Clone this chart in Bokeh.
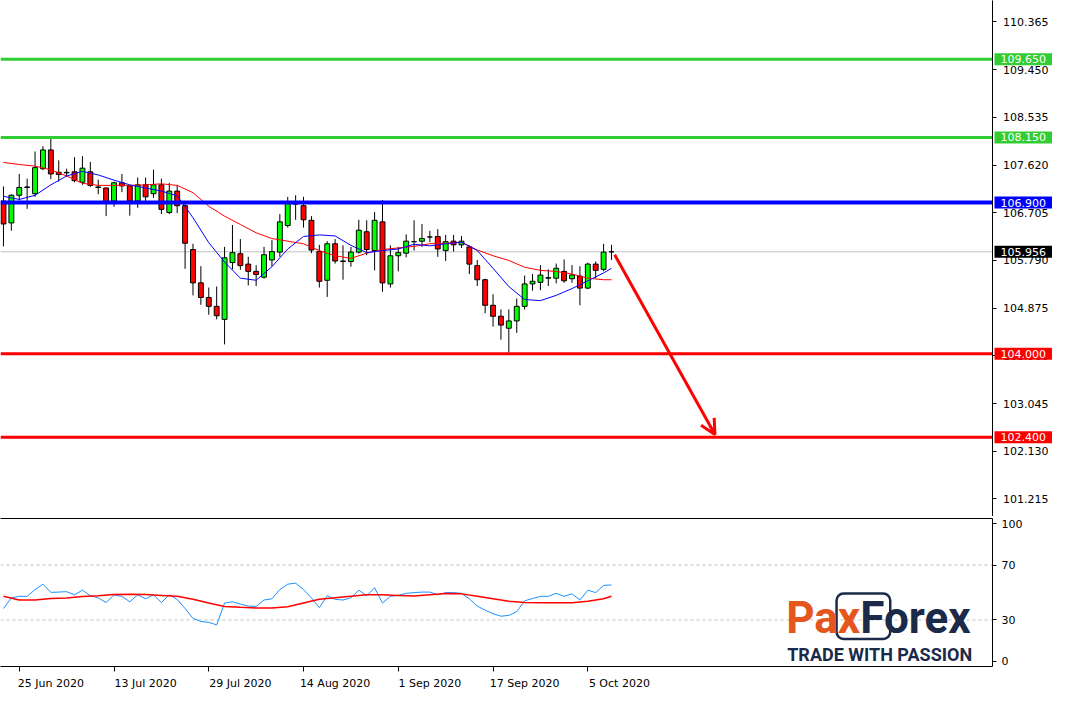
from bokeh.plotting import figure
from bokeh.layouts import column, row
from bokeh.models import (ColumnDataSource, Range1d, LinearAxis, FixedTicker, NumeralTickFormatter,
                          Span, Label, Arrow, OpenHead, BoxAnnotation)
from bokeh.embed import file_html
from bokeh.resources import INLINE

FONT = "DejaVu Sans"

# ---------------- data (USDJPY daily, 23 Jun 2020 .. 8 Oct 2020) ----------------
opens = [106.93, 106.51, 107.04, 107.19, 107.07, 107.55, 107.91, 107.48, 107.47, 107.49,
         107.29, 107.49, 107.19, 107.18, 106.93, 107.28, 107.22, 106.93, 107.24, 107.07,
         107.24, 106.71, 107.12, 106.84, 106.00, 105.36, 105.08, 104.91, 104.66, 105.75,
         105.92, 105.72, 105.58, 105.47, 105.80, 105.95, 106.46, 106.92, 106.84, 106.56,
         105.96, 105.41, 106.11, 105.78, 105.77, 105.95, 106.34, 105.98, 106.53, 105.34,
         105.88, 105.93, 106.15, 106.16, 106.24, 106.25, 105.98, 106.16, 106.09, 106.05,
         105.69, 105.42, 104.93, 104.72, 104.49, 104.63, 104.91, 105.34, 105.37, 105.45,
         105.45, 105.58, 105.44, 105.49, 105.26, 105.72, 105.62, 105.956]
highs = [107.21, 107.06, 107.45, 107.36, 107.88, 107.98, 108.12, 107.71, 107.55, 107.77,
         107.79, 107.68, 107.34, 107.19, 107.30, 107.45, 107.23, 107.38, 107.38, 107.53,
         107.36, 107.28, 107.24, 106.87, 106.11, 105.68, 105.27, 105.29, 106.05, 106.47,
         106.20, 105.86, 105.70, 106.05, 106.18, 106.68, 107.01, 107.04, 107.01, 106.64,
         106.09, 106.16, 106.20, 106.08, 106.05, 106.57, 106.56, 106.72, 106.95, 106.08,
         106.05, 106.29, 106.56, 106.49, 106.36, 106.39, 106.28, 106.28, 106.26, 106.08,
         105.80, 105.44, 105.14, 104.85, 104.85, 105.06, 105.50, 105.53, 105.70, 105.62,
         105.73, 105.81, 105.70, 105.68, 105.75, 105.77, 106.11, 106.09]
lows = [106.06, 106.36, 106.94, 106.78, 107.01, 107.52, 107.35, 107.30, 107.40, 107.29,
        107.24, 107.20, 107.06, 106.64, 106.82, 107.10, 106.65, 106.80, 106.93, 106.99,
        106.68, 106.68, 106.70, 105.63, 105.12, 104.94, 104.75, 104.66, 104.18, 105.62,
        105.61, 105.31, 105.30, 105.44, 105.68, 105.86, 106.42, 106.57, 106.42, 105.93,
        105.27, 105.09, 105.73, 105.42, 105.67, 105.92, 105.89, 105.60, 105.19, 105.27,
        105.58, 105.85, 105.98, 106.05, 106.14, 105.86, 105.78, 105.96, 106.03, 105.53,
        105.30, 104.78, 104.52, 104.27, 104.02, 104.40, 104.85, 105.21, 105.22, 105.30,
        105.35, 105.36, 105.36, 104.93, 105.24, 105.45, 105.58, 105.80]
closes = [106.49, 107.04, 107.19, 107.20, 107.57, 107.91, 107.45, 107.44, 107.48, 107.32,
          107.56, 107.23, 107.20, 106.92, 107.28, 107.22, 106.93, 107.24, 107.01, 107.24,
          106.77, 107.12, 106.84, 106.12, 105.36, 105.08, 104.91, 104.73, 105.84, 105.94,
          105.69, 105.58, 105.52, 105.90, 105.96, 106.53, 106.92, 106.87, 106.57, 105.99,
          105.39, 106.11, 105.78, 105.77, 105.95, 106.37, 106.00, 106.56, 105.36, 105.88,
          105.94, 106.16, 106.15, 106.21, 106.24, 106.01, 106.15, 106.09, 106.16, 105.72,
          105.42, 104.93, 104.72, 104.55, 104.63, 104.91, 105.34, 105.39, 105.51, 105.46,
          105.64, 105.40, 105.51, 105.26, 105.72, 105.60, 105.95, 105.956]

ma_idx = list(range(0, 78, 2)) + [77]
ma_fast = [107.02, 106.96, 107.04, 107.24, 107.41, 107.50, 107.43, 107.33, 107.24, 107.18,
           107.12, 107.03, 106.61, 106.13, 105.76, 105.45, 105.41, 105.67, 106.01, 106.25,
           106.28, 106.26, 106.08, 105.94, 105.98, 106.01, 106.10, 106.07, 106.11, 106.14,
           105.98, 105.64, 105.29, 105.04, 105.02, 105.12, 105.25, 105.40, 105.55, 105.64]
ma_slow = [107.67, 107.63, 107.60, 107.53, 107.41, 107.27, 107.23, 107.23, 107.23, 107.24,
           107.26, 107.23, 107.09, 106.83, 106.64, 106.48, 106.32, 106.21, 106.16, 106.11,
           105.98, 105.88, 105.83, 105.93, 106.00, 106.03, 106.06, 106.11, 106.12, 106.14,
           105.99, 105.88, 105.79, 105.66, 105.60, 105.58, 105.53, 105.45, 105.42, 105.42]

rsi = [38.3, 46.1, 47.2, 47.2, 52.1, 56.1, 50.1, 50.3, 50.6, 48.3,
       51.7, 47.7, 46.1, 42.7, 48.3, 47.2, 43.2, 48.3, 45.4, 48.3,
       42.7, 48.3, 45.0, 38.3, 31.1, 28.9, 28.2, 26.4, 42.3, 43.2,
       41.6, 40.1, 39.8, 44.5, 45.4, 52.1, 56.1, 56.8, 52.1, 46.1,
       38.9, 47.7, 45.0, 44.5, 46.1, 51.7, 47.7, 53.5, 42.3, 47.2,
       47.9, 49.4, 49.9, 50.3, 50.3, 48.3, 49.9, 49.9, 49.4, 45.4,
       40.1, 37.1, 34.5, 32.7, 33.3, 36.0, 43.9, 45.6, 47.2, 47.2,
       49.4, 47.2, 49.0, 44.5, 51.7, 49.9, 55.2, 55.5]
rsi_signal = [47.2, 44.5, 44.5, 45.6, 45.9, 47.0, 47.7, 48.5, 48.8, 48.5,
              47.9, 47.2, 45.0, 42.3, 39.8, 39.2, 38.7, 38.7, 39.6, 42.3,
              45.0, 46.1, 47.2, 48.3, 48.3, 47.9, 47.4, 48.3, 49.2, 49.0,
              47.2, 45.4, 43.6, 42.7, 42.5, 42.5, 42.5, 43.6, 45.4, 47.2]

date_tick_idx = [2, 14, 26, 38, 50, 62, 74]
date_tick_labels = ["25 Jun 2020", "13 Jul 2020", "29 Jul 2020", "14 Aug 2020",
                    "1 Sep 2020", "17 Sep 2020", "5 Oct 2020"]
price_ticks = [110.365, 109.450, 108.535, 107.620, 106.705, 105.790, 104.875,
               103.960, 103.045, 102.130, 101.215]
rsi_ticks = [0, 30, 70, 100]
rsi_levels = [70, 30]
levels = [109.650, 108.150, 106.900, 104.000, 102.400]
level_colors = ["#32CD32", "#32CD32", "#0000FF", "#FF0000", "#FF0000"]
current_price = 105.956
arrow_from = (77.4, 105.90)
arrow_to = (90.1, 102.45)

# ---------------- styling helpers ----------------
def style_axis(ax, size="11px"):
    ax.axis_line_color = "black"
    ax.axis_line_width = 1
    ax.major_tick_line_color = "black"
    ax.major_tick_out = 4
    ax.major_tick_in = 0
    ax.minor_tick_line_color = None
    ax.major_label_text_font = FONT
    ax.major_label_text_font_size = size
    ax.major_label_text_color = "black"
    ax.major_label_standoff = 5

def line_only_axis():
    return LinearAxis(ticker=FixedTicker(ticks=[]), axis_line_color="black",
                      major_tick_line_color=None, minor_tick_line_color=None,
                      major_label_text_font_size="1px", major_label_standoff=0)

def base_fig(**kw):
    return figure(toolbar_location=None, output_backend="svg",
                  min_border_left=0, min_border_right=0, min_border_top=0, min_border_bottom=0,
                  outline_line_color=None, background_fill_color="white",
                  border_fill_color="white", **kw)

x_range = Range1d(-0.375, 125.25)
y_price = Range1d(100.879, 110.776)
MAIN_H = 516

# ---------------- main price panel ----------------
main = base_fig(frame_width=992, frame_height=MAIN_H, x_range=x_range, y_range=y_price,
                x_axis_location=None, y_axis_location=None)
main.grid.visible = False
main.add_layout(line_only_axis(), "below")

main.add_layout(Span(location=current_price, dimension="width", line_color="#C0C0C0",
                     line_width=1, level="underlay"))

idx = list(range(len(opens)))
src = ColumnDataSource(dict(
    i=idx, high=highs, low=lows,
    top=[max(o, c) for o, c in zip(opens, closes)],
    bottom=[min(o, c) for o, c in zip(opens, closes)],
    color=["#00FF00" if c > o else ("#FF0000" if c < o else "black") for o, c in zip(opens, closes)],
))
main.segment(x0="i", y0="low", x1="i", y1="high", source=src, line_color="black", line_width=1)
main.vbar(x="i", width=0.62, top="top", bottom="bottom", source=src,
          fill_color="color", line_color="black", line_width=1)

main.line(ma_idx, ma_slow, line_color="#FF0000", line_width=1)
main.line(ma_idx, ma_fast, line_color="#0000FF", line_width=1)

for lv, col in zip(levels, level_colors):
    main.add_layout(Span(location=lv, dimension="width", line_color=col,
                         line_width=4 if col == "#0000FF" else 3))

main.add_layout(Arrow(x_start=arrow_from[0], y_start=arrow_from[1],
                      x_end=arrow_to[0], y_end=arrow_to[1],
                      line_color="#FF0000", line_width=3,
                      end=OpenHead(size=15, line_color="#FF0000", line_width=3)))

# ---------------- price scale strip (axis + coloured price boxes) ----------------
scale = base_fig(frame_width=64, frame_height=MAIN_H, x_range=Range1d(0, 64), y_range=y_price,
                 x_axis_location=None, y_axis_location="left")
scale.grid.visible = False
pax = scale.yaxis[0]
pax.ticker = FixedTicker(ticks=price_ticks)
pax.formatter = NumeralTickFormatter(format="0.000")
style_axis(pax)
pax.major_tick_out = 0
pax.major_tick_in = 4
pax.major_label_standoff = -56
scale.add_layout(Span(location=0, dimension="height", line_color="black", line_width=1))

for lv, col in list(zip(levels, level_colors)) + [(current_price, "black")]:
    scale.add_layout(Label(x=2, y=lv, x_units="data", y_units="data",
                           text=f"{lv:.3f}", text_color="white", text_font=FONT,
                           text_font_size="11px", text_align="left", text_baseline="middle",
                           background_fill_color=col, padding=(6, 2)))

# ---------------- RSI panel ----------------
rp = base_fig(frame_width=992, frame_height=148, x_range=x_range, y_range=Range1d(-4, 104),
              x_axis_location=None, y_axis_location="right")
rp.min_border_right = 64
rp.min_border_top = 2
rp.grid.visible = False
ryax = rp.yaxis[0]
ryax.ticker = FixedTicker(ticks=rsi_ticks)
style_axis(ryax)
rp.add_layout(line_only_axis(), "above")

tick_axis = LinearAxis(ticker=FixedTicker(ticks=date_tick_idx),
                       major_label_overrides={t: "" for t in date_tick_idx})
style_axis(tick_axis)
tick_axis.major_tick_out = 5
tick_axis.major_label_text_font_size = "1px"
tick_axis.major_label_standoff = 0
rp.add_layout(tick_axis, "below")

label_pos = [t + 4 for t in date_tick_idx]
date_axis = LinearAxis(ticker=FixedTicker(ticks=label_pos),
                       major_label_overrides={p: s for p, s in zip(label_pos, date_tick_labels)})
style_axis(date_axis)
date_axis.axis_line_color = None
date_axis.major_tick_line_color = None
date_axis.major_label_standoff = 1
rp.add_layout(date_axis, "below")

for lv in rsi_levels:
    rp.add_layout(Span(location=lv, dimension="width", line_color="#C0C0C0",
                       line_width=1, line_dash="3 3", level="underlay"))

# logo
NAVY = "#1C2A4A"
rp.add_layout(BoxAnnotation(left=105.5, right=112.3, bottom=16.1, top=49.2,
                            fill_alpha=0, line_color=NAVY, line_alpha=1, line_width=2.5,
                            border_radius=7, level="underlay"))
rp.add_layout(Label(x=99.125, y=31.6, text="Pax", text_font="Roboto", text_font_style="bold",
                    text_font_size="44px", text_color="#E5561E", text_baseline="middle"))
rp.add_layout(Label(x=108.5, y=31.6, text="Forex", text_font="Roboto", text_font_style="bold",
                    text_font_size="44px", text_color=NAVY, text_baseline="middle"))
rp.add_layout(Label(x=99.25, y=4.6, text="TRADE WITH PASSION", text_font="Roboto",
                    text_font_style="bold", text_font_size="18px", text_color=NAVY,
                    text_baseline="middle"))

rp.line(idx, rsi, line_color="#1E90FF", line_width=1)
rp.line(ma_idx, rsi_signal, line_color="#FF0000", line_width=1.5)

layout = column(row(main, scale), rp)
open("out.html", "w").write(file_html(layout, INLINE))
